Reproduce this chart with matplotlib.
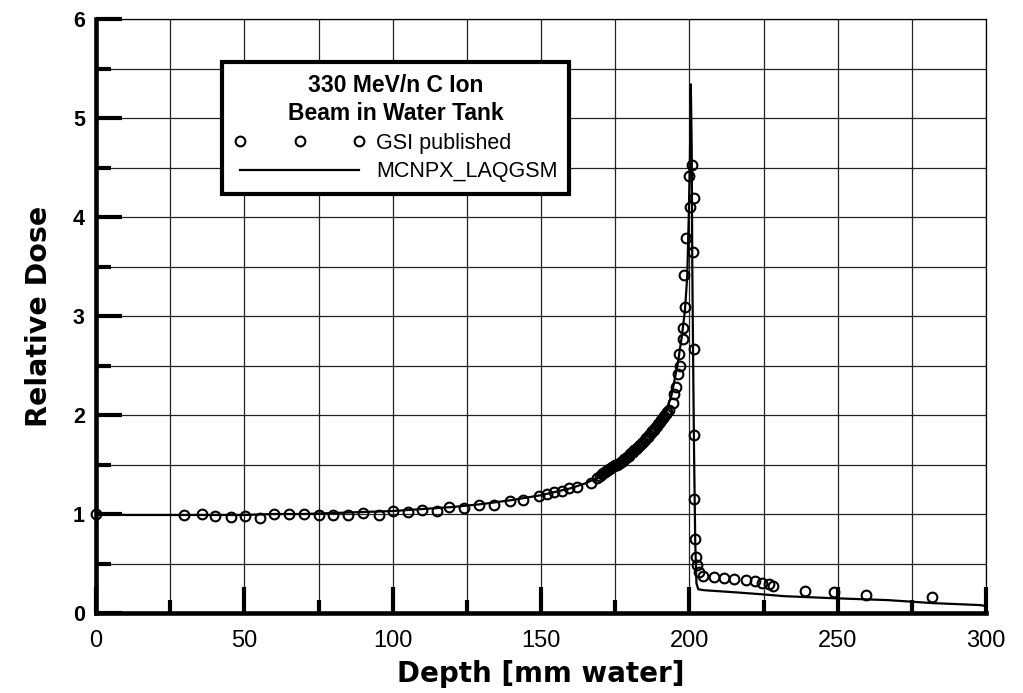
import matplotlib
matplotlib.use("Agg")
import matplotlib.pyplot as plt
from matplotlib.font_manager import FontProperties
from matplotlib.ticker import MultipleLocator

# GSI published measurement (depth in mm water, relative dose)
gsi_depth = [0, 29.6, 35.6, 40, 45.4, 50.2, 55.2, 60, 65, 70, 75, 80, 84.8, 90, 95.3,
             100, 105, 109.8, 115, 118.9, 124, 129, 134.3, 139.4, 143.8, 149.2,
             152, 154.5, 157, 159.6, 162, 167, 169,
             170, 170.5, 171, 171.5, 172, 172.5, 173, 173.5, 174, 174.5, 175, 175.5,
             176, 176.5, 177, 177.5, 178, 178.5, 179, 179.5, 180, 180.5, 181, 181.5,
             182, 182.5, 183, 183.5, 184, 184.5, 185, 185.5, 186, 186.5, 187, 187.5,
             188, 188.5, 189, 189.5, 190, 190.5, 191, 191.5, 192, 192.5, 193,
             194.6, 194.9, 195.5, 196.3, 196.8, 196.6, 197.9, 197.7, 198.6, 198.3,
             198.9, 200.3, 199.8, 200.9, 201.6, 201.1, 201.6, 201.6, 201.6, 201.9,
             202.4, 202.7, 203.2, 204.7, 208.4, 211.8, 215.2, 219, 222, 224.6, 227,
             228.3, 239, 248.8, 259.5, 281.7]
gsi_dose = [1.00, 0.99, 1.00, 0.98, 0.97, 0.98, 0.96, 1.00, 1.00, 1.00, 0.99, 0.99, 0.99, 1.01, 0.99,
            1.03, 1.02, 1.04, 1.03, 1.07, 1.06, 1.09, 1.09, 1.13, 1.14, 1.18,
            1.20, 1.22, 1.23, 1.26, 1.27, 1.31, 1.36,
            1.38, 1.40, 1.41, 1.42, 1.43, 1.44, 1.45, 1.46, 1.47, 1.48, 1.49, 1.50,
            1.51, 1.52, 1.53, 1.54, 1.56, 1.57, 1.58, 1.59, 1.61, 1.62, 1.63, 1.65,
            1.66, 1.67, 1.69, 1.70, 1.72, 1.73, 1.75, 1.77, 1.78, 1.80, 1.82, 1.84,
            1.85, 1.87, 1.89, 1.91, 1.93, 1.95, 1.97, 1.99, 2.01, 2.03, 2.05,
            2.12, 2.21, 2.28, 2.41, 2.50, 2.62, 2.77, 2.88, 3.09, 3.41,
            3.79, 4.10, 4.41, 4.53, 4.19, 3.65, 2.67, 1.80, 1.15, 0.75,
            0.57, 0.48, 0.41, 0.37, 0.36, 0.35, 0.34, 0.33, 0.32, 0.30, 0.29,
            0.27, 0.22, 0.21, 0.18, 0.16]

# MCNPX_LAQGSM calculation
mc_depth = [0, 5, 10, 15, 20, 25, 30, 40, 50, 60, 70, 80, 90, 100, 110, 120, 130,
            140, 150, 160, 165, 170, 175, 180, 185, 188, 190, 192, 194, 196, 197.5,
            198.5, 199.3, 199.8, 200.2, 200.5, 200.8, 201.0, 201.3, 201.6, 202.0,
            202.4, 203, 205, 215, 224, 232, 248, 267, 282, 298, 300]
mc_dose = [1.00, 1.00, 0.99, 0.99, 0.99, 0.99, 0.99, 0.99, 0.99, 1.00, 1.00, 1.01,
           1.02, 1.03, 1.05, 1.07, 1.10, 1.14, 1.19, 1.26, 1.31, 1.38, 1.46, 1.56,
           1.69, 1.80, 1.90, 2.02, 2.20, 2.50, 2.80, 3.05, 3.40, 4.00, 4.60, 5.34,
           4.70, 3.50, 2.50, 1.60, 0.70, 0.30, 0.24, 0.23, 0.21, 0.19, 0.17,
           0.15, 0.13, 0.10, 0.08, 0.07]

fig = plt.figure(figsize=(10.23, 6.93), dpi=100)
ax = fig.add_axes([96 / 1023, 80 / 693, 890 / 1023, 594 / 693])

gsi, = ax.plot(gsi_depth, gsi_dose, linestyle="none", marker="o", ms=7,
               mfc="none", mec="black", mew=1.5, zorder=3, clip_on=False)
mc, = ax.plot(mc_depth, mc_dose, color="black", lw=1.6, zorder=4)

ax.set_xlim(0, 300)
ax.set_ylim(0, 6)
ax.xaxis.set_major_locator(MultipleLocator(50))
ax.xaxis.set_minor_locator(MultipleLocator(25))
ax.yaxis.set_major_locator(MultipleLocator(1))
ax.yaxis.set_minor_locator(MultipleLocator(0.5))
ax.grid(True, which="both", color="#222222", lw=0.9, zorder=0)
ax.set_axisbelow(True)

ax.tick_params(axis="both", which="both", direction="in", width=3, color="black")
ax.tick_params(axis="x", which="major", length=19, pad=12)
ax.tick_params(axis="x", which="minor", length=9.5)
ax.tick_params(axis="y", which="major", length=19, pad=8)
ax.tick_params(axis="y", which="minor", length=11)

for lab in ax.get_xticklabels():
    lab.set_fontfamily("Liberation Sans")
    lab.set_fontsize(17)
for lab in ax.get_yticklabels():
    lab.set_fontfamily("Liberation Sans")
    lab.set_fontsize(15.5)
    lab.set_fontweight("bold")

for side in ["left", "bottom"]:
    ax.spines[side].set_linewidth(3.3)
for side in ["top", "right"]:
    ax.spines[side].set_linewidth(0.9)

ax.set_xlabel("Depth [mm water]", fontsize=20, fontweight="bold", family="DejaVu Sans", labelpad=6)
ax.set_ylabel("Relative Dose", fontsize=20.5, fontweight="bold", family="DejaVu Sans", labelpad=14)

leg = ax.legend([gsi, mc], ["GSI published", "MCNPX_LAQGSM"],
                title="330 MeV/n C Ion\nBeam in Water Tank",
                title_fontproperties=FontProperties(family="Liberation Sans", weight="bold", size=16.5),
                prop=FontProperties(family="Liberation Sans", size=15.5),
                loc="upper left", bbox_to_anchor=(0.1416, 0.9276), borderaxespad=0,
                numpoints=3, handlelength=6.1, handletextpad=0.5, labelspacing=0.35,
                borderpad=0.55, fancybox=False, framealpha=1, edgecolor="black")
leg.get_frame().set_linewidth(3)
leg.get_title().set_multialignment("center")
leg.get_title().set_linespacing(1.3)
leg.set_zorder(5)

fig.savefig("out.png", dpi=100)
